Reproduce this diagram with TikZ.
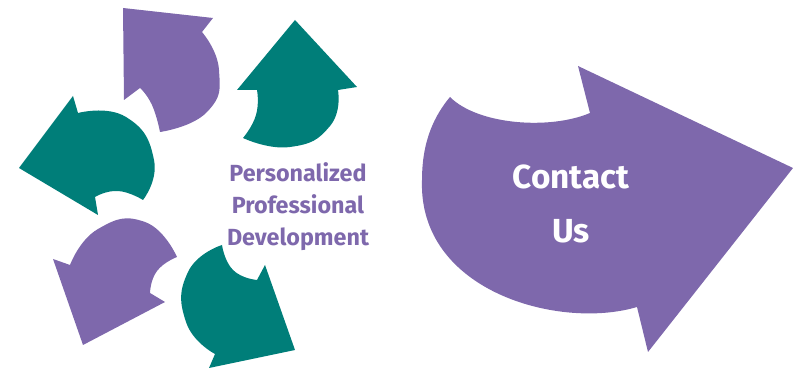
\documentclass[tikz,border=0pt]{standalone}
\usepackage{fontspec}
\setmainfont{Fira Sans}
\definecolor{cyclepurple}{RGB}{126,104,172}
\definecolor{cycleteal}{RGB}{0,126,121}

\begin{document}
\begin{tikzpicture}[x=0.75pt,y=-0.75pt,
    purplearrow/.style={fill=cyclepurple},
    tealarrow/.style={fill=cycleteal},
    rim/.style={smooth,tension=0.9},
    cyclelabel/.style={align=center,text=cyclepurple,font=\bfseries\fontsize{17.5}{24}\selectfont},
    contactlabel/.style={align=center,text=white,font=\bfseries\fontsize{25}{40}\selectfont}]

  \useasboundingbox (0,0) rectangle (793,370);

  % Cycle of arrows
  \fill[purplearrow] (123,8) -- (213,18) -- (202,32)
    -- plot[rim] coordinates {(202,32) (219,70) (207,112) (160,132)}
    -- plot[rim] coordinates {(160,132) (152,105) (140,88)}
    -- (124,100) -- cycle;
  \fill[tealarrow] (295,20) -- (357,87) -- (338,90)
    -- plot[rim] coordinates {(338,90) (330,126) (290,147) (243,138)}
    -- plot[rim] coordinates {(243,138) (256,115) (257,90)}
    -- (237,90) -- cycle;
  \fill[tealarrow] (19,168) -- (73,96) -- (78,113)
    -- plot[rim] coordinates {(78,113) (126,117) (154,160) (143,200)}
    -- plot[rim] coordinates {(143,200) (118,191) (95,197)}
    -- (98,215) -- cycle;
  \fill[purplearrow] (83,345) -- (53,259) -- (70,265)
    -- plot[rim] coordinates {(70,265) (98,229) (145,222) (177,257)}
    -- plot[rim] coordinates {(177,257) (157,271) (150,293)}
    -- (165,302) -- cycle;
  \fill[tealarrow] (295,350) -- (209,368) -- (215,354)
    -- plot[rim] coordinates {(215,354) (186,322) (188,272) (222,245)}
    -- plot[rim] coordinates {(222,245) (233,270) (257,280)}
    -- (265,265) -- cycle;
  \node[cyclelabel] (ppd) at (298,207) {Personalized\\Professional\\Development};

  % Big arrow
  \fill[purplearrow] (590,113) -- (578,66) -- (793,168) -- (648,352) -- (637,307)
    .. controls (560,330) and (418,292) .. (422,180)
    .. controls (422,140) and (435,115) .. (450,97)
    .. controls (478,125) and (550,130) .. (590,113) -- cycle;
  \node[contactlabel] (contact) at (571,204) {Contact\\Us};

\end{tikzpicture}
\end{document}
